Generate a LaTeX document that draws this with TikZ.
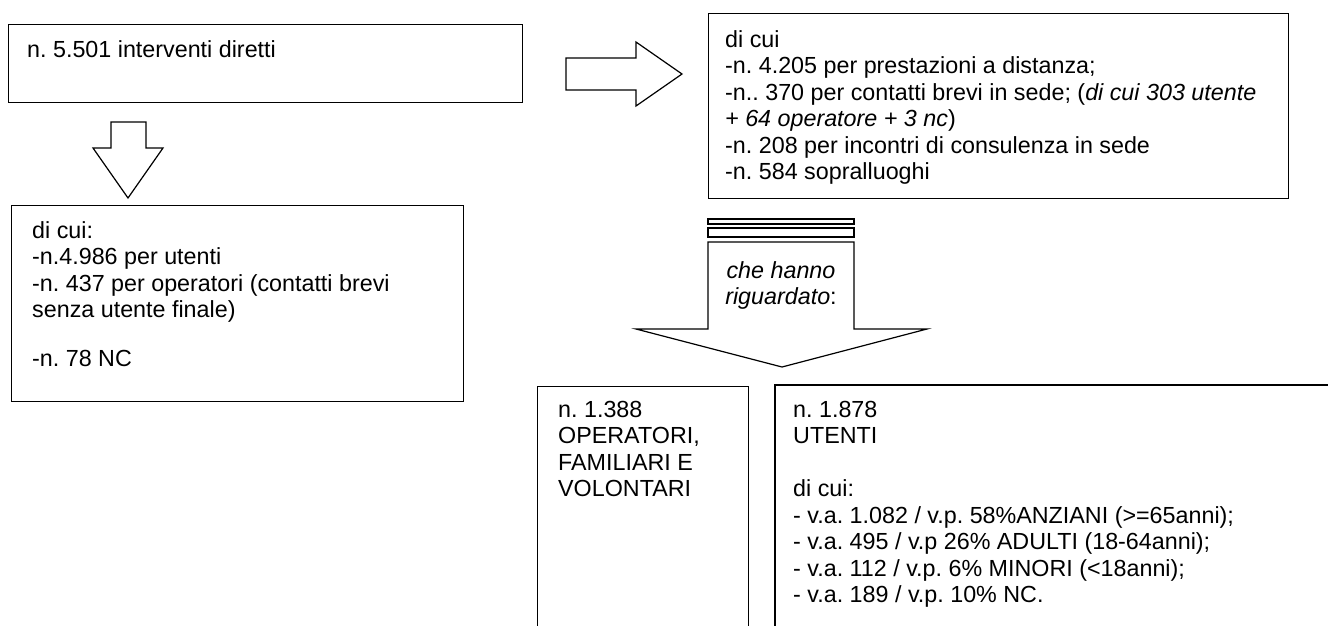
\documentclass[tikz,border=0pt]{standalone}
\usepackage{fontspec}
\setmainfont{Liberation Sans}
\usetikzlibrary{positioning}

\begin{document}
\frenchspacing
\begin{tikzpicture}[x=1pt, y=-1pt,
    box/.style={draw, line width=1.2pt, inner sep=0pt, anchor=north west},
    txt/.style={anchor=north west, inner sep=0pt, align=left, font=\fontsize{23.3}{26.5}\selectfont},
    blockarrow/.style={draw, line width=1.2pt, line join=miter}]
    \useasboundingbox (0,0) rectangle (1328,625);
    \clip (0,0) rectangle (1328,625);
    % boxes
    \node[box, minimum width=514pt, minimum height=78pt] (tot) at (8,24) {};
    \node[txt, below right=14.5pt and 19pt of tot.north west] (totlab) {\strut n. 5.501 interventi diretti};
    \node[box, minimum width=452pt, minimum height=196pt] (split) at (11,205) {};
    \node[txt, below right=14.5pt and 21pt of split.north west] (splitlab) {\strut di cui:\\-n.4.986 per utenti\\-n. 437 per operatori (contatti brevi\\senza utente finale)\\[22pt]-n. 78 NC};
    \node[box, minimum width=580pt, minimum height=185pt] (modes) at (708,13) {};
    \node[txt, below right=15.5pt and 17pt of modes.north west] (modeslab) {\strut di cui\\-n. 4.205 per prestazioni a distanza;\\-n.. 370 per contatti brevi in sede; (\textit{di cui 303 utente}\\\textit{+ 64 operatore + 3 nc})\\-n. 208 per incontri di consulenza in sede\\-n. 584 sopralluoghi};
    \node[box, minimum width=211pt, minimum height=260pt] (oper) at (537,386) {};
    \node[txt, below right=12.5pt and 21pt of oper.north west] (operlab) {\strut n. 1.388\\OPERATORI,\\FAMILIARI E\\VOLONTARI};
    \node[box, line width=1.6pt, minimum width=600pt, minimum height=260pt] (users) at (774,384) {};
    \node[txt, below right=14.5pt and 19pt of users.north west] (userslab) {\strut n. 1.878\\UTENTI\\[26.5pt]di cui:\\- v.a. 1.082 / v.p. 58\%ANZIANI (>=65anni);\\- v.a. 495 / v.p 26\% ADULTI (18-64anni);\\- v.a. 112 / v.p. 6\% MINORI (<18anni);\\- v.a. 189 / v.p. 10\% NC.};
    % block arrows
    \draw[blockarrow] (566,58) -- (636,58) -- (636,42) -- (682,74) -- (636,106) -- (636,90) -- (566,90) -- cycle;
    \draw[blockarrow] (111,122) -- (146,122) -- (146,148) -- (163,148) -- (128,198) -- (93,148) -- (111,148) -- cycle;
    \foreach \ytop/\ybot in {219/224, 228/237}
        \draw[blockarrow] (708,\ytop) rectangle (854,\ybot);
    \draw[blockarrow] (708,242) -- (854,242) -- (854,329) -- (927,329) -- (782,367) -- (636,329) -- (708,329) -- cycle;
    \node[txt, anchor=north, align=center] (aboutlab) at (781,259.5) {\strut\textit{che hanno}\\\textit{riguardato}:};
\end{tikzpicture}
\end{document}
